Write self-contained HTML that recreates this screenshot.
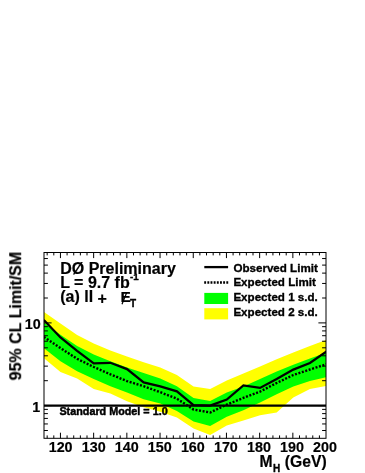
<!DOCTYPE html><html><head><meta charset="utf-8"><title>chart</title><style>html,body{margin:0;padding:0;background:#fff}svg{display:block}text{font-family:"Liberation Sans",sans-serif;font-weight:bold;fill:#000;stroke:#000;stroke-linejoin:round;stroke-width:0.2px}.b{stroke-width:0.35px}.c{stroke-width:0.45px}</style></head><body>
<svg width="365" height="473" viewBox="0 0 365 473">
<rect width="365" height="473" fill="#fff"/>
<defs><clipPath id="c"><rect x="44.00" y="252.50" width="282.00" height="185.80"/></clipPath></defs>
<g clip-path="url(#c)">
<polygon points="43.85,311.80 60.48,323.50 77.11,334.90 93.74,343.40 110.37,350.60 127.00,356.50 143.63,362.30 160.26,367.60 176.89,375.10 193.52,386.50 210.15,388.90 226.78,380.40 243.41,373.60 260.04,366.50 276.67,359.30 293.30,352.60 309.93,345.90 326.56,339.80 326.56,385.80 309.93,389.10 293.30,397.40 276.67,412.40 260.04,415.20 243.41,420.60 226.78,425.50 210.15,435.00 193.52,428.50 176.89,417.40 160.26,411.80 143.63,407.30 127.00,401.30 110.37,393.40 93.74,389.00 77.11,378.60 60.48,371.90 43.85,358.10" fill="#ffff00"/>
<polygon points="43.85,322.30 60.48,334.70 77.11,346.00 93.74,354.40 110.37,361.20 127.00,367.50 143.63,373.00 160.26,378.60 176.89,386.30 193.52,398.00 210.15,401.00 226.78,392.50 243.41,386.40 260.04,379.10 276.67,371.40 293.30,364.70 309.93,358.60 326.56,352.60 326.56,377.10 309.93,381.00 293.30,386.50 276.67,394.20 260.04,402.50 243.41,410.30 226.78,416.70 210.15,426.00 193.52,421.50 176.89,411.10 160.26,403.50 143.63,399.20 127.00,392.50 110.37,386.30 93.74,379.00 77.11,371.20 60.48,361.30 43.85,348.10" fill="#00ff00"/>
<polyline points="43.85,337.00 60.48,348.10 77.11,358.80 93.74,367.00 110.37,374.30 127.00,381.10 143.63,386.20 160.26,392.20 176.89,398.70 193.52,409.50 210.15,412.50 226.78,404.60 243.41,397.90 260.04,391.60 276.67,383.00 293.30,375.00 309.93,369.50 326.56,364.20" fill="none" stroke="#000" stroke-width="2.4" stroke-dasharray="2,1.6"/>
<polyline points="43.85,319.90 60.48,337.40 77.11,350.80 93.74,363.40 110.37,362.80 127.00,369.10 143.63,382.40 160.26,386.30 176.89,391.30 193.52,405.20 210.15,405.50 226.78,399.60 243.41,385.40 260.04,387.90 276.67,379.10 293.30,369.60 309.93,363.00 326.56,351.50" fill="none" stroke="#000" stroke-width="2.25" stroke-linejoin="miter"/>
<line x1="44.00" y1="405.60" x2="326.00" y2="405.60" stroke="#000" stroke-width="2.1"/>
</g>
<path d="M47.17 438.30V435.40M53.81 438.30V435.40M60.45 438.30V432.70M67.09 438.30V435.40M73.73 438.30V435.40M80.37 438.30V435.40M87.01 438.30V435.40M93.65 438.30V432.70M100.29 438.30V435.40M106.93 438.30V435.40M113.57 438.30V435.40M120.21 438.30V435.40M126.85 438.30V432.70M133.49 438.30V435.40M140.13 438.30V435.40M146.77 438.30V435.40M153.41 438.30V435.40M160.05 438.30V432.70M166.69 438.30V435.40M173.33 438.30V435.40M179.97 438.30V435.40M186.61 438.30V435.40M193.25 438.30V432.70M199.89 438.30V435.40M206.53 438.30V435.40M213.17 438.30V435.40M219.81 438.30V435.40M226.45 438.30V432.70M233.09 438.30V435.40M239.73 438.30V435.40M246.37 438.30V435.40M253.01 438.30V435.40M259.65 438.30V432.70M266.29 438.30V435.40M272.93 438.30V435.40M279.57 438.30V435.40M286.21 438.30V435.40M292.85 438.30V432.70M299.49 438.30V435.40M306.13 438.30V435.40M312.77 438.30V435.40M319.41 438.30V435.40M47.17 252.50V255.40M53.81 252.50V255.40M60.45 252.50V258.10M67.09 252.50V255.40M73.73 252.50V255.40M80.37 252.50V255.40M87.01 252.50V255.40M93.65 252.50V258.10M100.29 252.50V255.40M106.93 252.50V255.40M113.57 252.50V255.40M120.21 252.50V255.40M126.85 252.50V258.10M133.49 252.50V255.40M140.13 252.50V255.40M146.77 252.50V255.40M153.41 252.50V255.40M160.05 252.50V258.10M166.69 252.50V255.40M173.33 252.50V255.40M179.97 252.50V255.40M186.61 252.50V255.40M193.25 252.50V258.10M199.89 252.50V255.40M206.53 252.50V255.40M213.17 252.50V255.40M219.81 252.50V255.40M226.45 252.50V258.10M233.09 252.50V255.40M239.73 252.50V255.40M246.37 252.50V255.40M253.01 252.50V255.40M259.65 252.50V258.10M266.29 252.50V255.40M272.93 252.50V255.40M279.57 252.50V255.40M286.21 252.50V255.40M292.85 252.50V258.10M299.49 252.50V255.40M306.13 252.50V255.40M312.77 252.50V255.40M319.41 252.50V255.40M44.00 430.50H47.90M326.00 430.50H322.10M44.00 423.95H47.90M326.00 423.95H322.10M44.00 418.41H47.90M326.00 418.41H322.10M44.00 413.61H47.90M326.00 413.61H322.10M44.00 409.38H47.90M326.00 409.38H322.10M44.00 405.60H51.60M326.00 405.60H318.40M44.00 380.70H47.90M326.00 380.70H322.10M44.00 366.14H47.90M326.00 366.14H322.10M44.00 355.81H47.90M326.00 355.81H322.10M44.00 347.80H47.90M326.00 347.80H322.10M44.00 341.25H47.90M326.00 341.25H322.10M44.00 335.71H47.90M326.00 335.71H322.10M44.00 330.91H47.90M326.00 330.91H322.10M44.00 326.68H47.90M326.00 326.68H322.10M44.00 322.90H51.60M326.00 322.90H318.40M44.00 298.00H47.90M326.00 298.00H322.10M44.00 283.44H47.90M326.00 283.44H322.10M44.00 273.11H47.90M326.00 273.11H322.10M44.00 265.10H47.90M326.00 265.10H322.10M44.00 258.55H47.90M326.00 258.55H322.10" stroke="#000" stroke-width="1" fill="none"/>
<rect x="44.00" y="252.50" width="282.00" height="185.80" fill="none" stroke="#000" stroke-width="1"/>
<g style="filter:grayscale(1)">
<text class="a" x="48.70" y="452" font-size="15.3" textLength="23.9" lengthAdjust="spacingAndGlyphs">120</text>
<text class="a" x="81.75" y="452" font-size="15.3" textLength="23.9" lengthAdjust="spacingAndGlyphs">130</text>
<text class="a" x="114.80" y="452" font-size="15.3" textLength="23.9" lengthAdjust="spacingAndGlyphs">140</text>
<text class="a" x="147.85" y="452" font-size="15.3" textLength="23.9" lengthAdjust="spacingAndGlyphs">150</text>
<text class="a" x="180.90" y="452" font-size="15.3" textLength="23.9" lengthAdjust="spacingAndGlyphs">160</text>
<text class="a" x="213.95" y="452" font-size="15.3" textLength="23.9" lengthAdjust="spacingAndGlyphs">170</text>
<text class="a" x="247.00" y="452" font-size="15.3" textLength="23.9" lengthAdjust="spacingAndGlyphs">180</text>
<text class="a" x="280.05" y="452" font-size="15.3" textLength="23.9" lengthAdjust="spacingAndGlyphs">190</text>
<text class="a" x="313.10" y="452" font-size="15.3" textLength="23.9" lengthAdjust="spacingAndGlyphs">200</text>
<text class="a" x="24.7" y="329" font-size="15.3" textLength="15.95" lengthAdjust="spacingAndGlyphs">10</text>
<text class="a" x="32.2" y="411.9" font-size="15.3" textLength="7.97" lengthAdjust="spacingAndGlyphs">1</text>
<text class="a" transform="translate(21.2,380.4) rotate(-90)" font-size="16">95% CL Limit/SM</text>
<text class="a" x="259.6" y="467.4" font-size="15.7">M</text>
<text class="b" x="273.1" y="471.7" font-size="10">H</text>
<text class="a" x="284.8" y="467.4" font-size="15.7">(GeV)</text>
<text class="a" x="60.2" y="273.8" font-size="16">DØ Preliminary</text>
<text class="a" x="60.2" y="287.8" font-size="16">L = 9.7 fb</text>
<text class="b" x="130" y="280.3" font-size="9.8">-1</text>
<text class="a" x="60.2" y="302.4" font-size="16">(a) ll</text>
<text class="a" x="97.5" y="304.2" font-size="16">+</text>
<text class="a" x="120.5" y="302.3" font-size="15.5">E</text>
<text class="b" x="130.0" y="306.7" font-size="10">T</text>
<line x1="122.0" y1="304.2" x2="126.8" y2="292.2" stroke="#000" stroke-width="1.2"/>
<text class="c" x="59.4" y="415.4" font-size="10.8">Standard Model = 1.0</text>
<text class="b" x="233.4" y="271.5" font-size="11.6">Observed Limit</text>
<text class="b" x="233.4" y="286.3" font-size="11.6">Expected Limit</text>
<text class="b" x="233.4" y="301.1" font-size="11.6">Expected 1 s.d.</text>
<text class="b" x="233.4" y="316.4" font-size="11.6">Expected 2 s.d.</text>
</g>
<line x1="204.3" y1="267.1" x2="228.1" y2="267.1" stroke="#000" stroke-width="2.3"/>
<line x1="204.2" y1="282.5" x2="228.3" y2="282.5" stroke="#000" stroke-width="2.3" stroke-dasharray="1.9,1.26"/>
<rect x="204.3" y="292.9" width="23.8" height="11.1" fill="#00ff00"/>
<rect x="204.3" y="308.2" width="23.8" height="11.2" fill="#ffff00"/>
</svg></body></html>
